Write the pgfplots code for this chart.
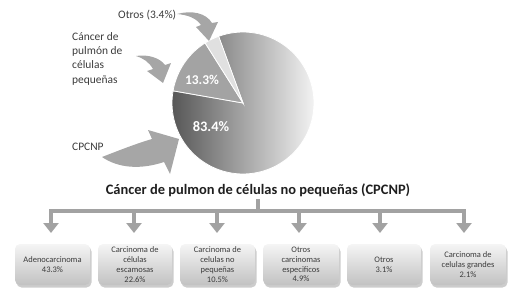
\documentclass[border=0pt]{standalone}
\usepackage{pgfplots}
\pgfplotsset{compat=1.18}
\usepackage{fontspec}
\setmainfont{Carlito}
\usetikzlibrary{arrows.meta}
\definecolor{conn}{HTML}{A2A2A2}
\definecolor{arr}{HTML}{A6A6A6}
\definecolor{txt}{HTML}{3C3C3C}
\newcommand{\catbox}[3]{%
  \fill[black!20, rounded corners=5bp] (#1+1.5,246.5) rectangle (#2+1.5,287.5);
  \shade[top color=black!4, bottom color=black!24, rounded corners=5bp] (#1,244) rectangle (#2,285);
  \node[text=txt, align=center, font=\fontsize{8.5}{9.8}\selectfont] at ({(#1+#2)/2},264.5) {#3};
}
\newcommand{\downarr}[1]{%
  \draw[conn, line width=4.5bp, -{Triangle[width=15bp,length=10bp]}] (#1,209) -- (#1,233);
}
\begin{document}
\begin{tikzpicture}
% pie data (percent)
\pgfmathsetmacro{\vA}{3.4}
\pgfmathsetmacro{\vB}{13.3}
\pgfmathsetmacro{\vC}{83.4}
\pgfmathsetmacro{\aA}{110}
\pgfmathsetmacro{\aB}{\aA+3.6*\vA}
\pgfmathsetmacro{\aC}{\aB+3.6*\vB}
\pgfmathsetmacro{\aD}{\aC+3.6*\vC}
\begin{axis}[
  scale only axis, width=516bp, height=298bp,
  xmin=0, xmax=516, ymin=0, ymax=298, y dir=reverse,
  hide axis, clip=false,
]
\path (0,0) rectangle (516,298);
% pie slices
\addplot[left color=black!66, right color=black!5, draw=white, line width=0.8bp, domain=\aC:\aD, samples=90, variable=\t]
  ({243+71*cos(\t)},{103-71*sin(\t)}) -- (243,103) -- cycle;
\addplot[fill=black!36, draw=white, line width=0.8bp, domain=\aB:\aC, samples=30, variable=\t]
  ({243+71*cos(\t)},{103-71*sin(\t)}) -- (243,103) -- cycle;
\addplot[fill=black!12, draw=white, line width=0.8bp, domain=\aA:\aB, samples=10, variable=\t]
  ({243+71*cos(\t)},{103-71*sin(\t)}) -- (243,103) -- cycle;
\node[text=white, font=\fontsize{13.5}{13.5}\selectfont\bfseries] at (202,80) {13.3\%};
\node[text=white, font=\fontsize{14.5}{14.5}\selectfont\bfseries] at (211,127) {83.4\%};
% side labels
\node[anchor=west, text=txt, inner sep=0pt, font=\fontsize{11.5}{11.5}\selectfont] at (118,15) {Otros (3.4\%)};
\node[anchor=north west, text=txt, align=left, inner sep=0pt, font=\fontsize{11.5}{14.4}\selectfont] at (72,32) {Cáncer de\\pulmón de\\células\\pequeñas};
\node[anchor=west, text=txt, inner sep=0pt, font=\fontsize{11.5}{11.5}\selectfont] at (72,147) {CPCNP};
% pointing block arrows
\fill[arr] (177,14) .. controls (192,10) and (206,13) .. (212,23) -- (218,22) -- (209,41) -- (196,27) -- (201,25)
   .. controls (196,18) and (188,15) .. (177,14) -- cycle;
\fill[arr] (136,56) .. controls (148,54) and (160,58) .. (165,65) -- (171,63) -- (163,83) -- (147,71) -- (153,69)
   .. controls (149,62) and (143,58) .. (136,56) -- cycle;
\fill[arr] (102,157) .. controls (120,150) and (138,143) .. (152,139) -- (148,130) -- (179,139) -- (170,174) -- (164,162)
   .. controls (140,170) and (118,168) .. (102,157) -- cycle;
% title
\node[text=black!88, font=\fontsize{14.5}{14.5}\selectfont\bfseries] at (258,190) {Cáncer de pulmon de células no pequeñas (CPCNP)};
% connector
\draw[conn, line width=4.5bp] (258,199) -- (258,211);
\draw[conn, line width=4.5bp] (49,211) -- (466,211);
\downarr{51}
\downarr{134}
\downarr{217}
\downarr{299}
\downarr{380}
\downarr{464}
% boxes
\catbox{15}{90}{Adenocarcinoma\\43.3\%}
\catbox{98}{172}{Carcinoma de\\células\\escamosas\\22.6\%}
\catbox{180}{255}{Carcinoma de\\celulas no\\pequeñas\\10.5\%}
\catbox{263}{339}{Otros\\carcinomas\\especificos\\4.9\%}
\catbox{347}{421}{Otros\\3.1\%}
\catbox{430}{506}{Carcinoma de\\celulas grandes\\2.1\%}
\end{axis}
\end{tikzpicture}
\end{document}
